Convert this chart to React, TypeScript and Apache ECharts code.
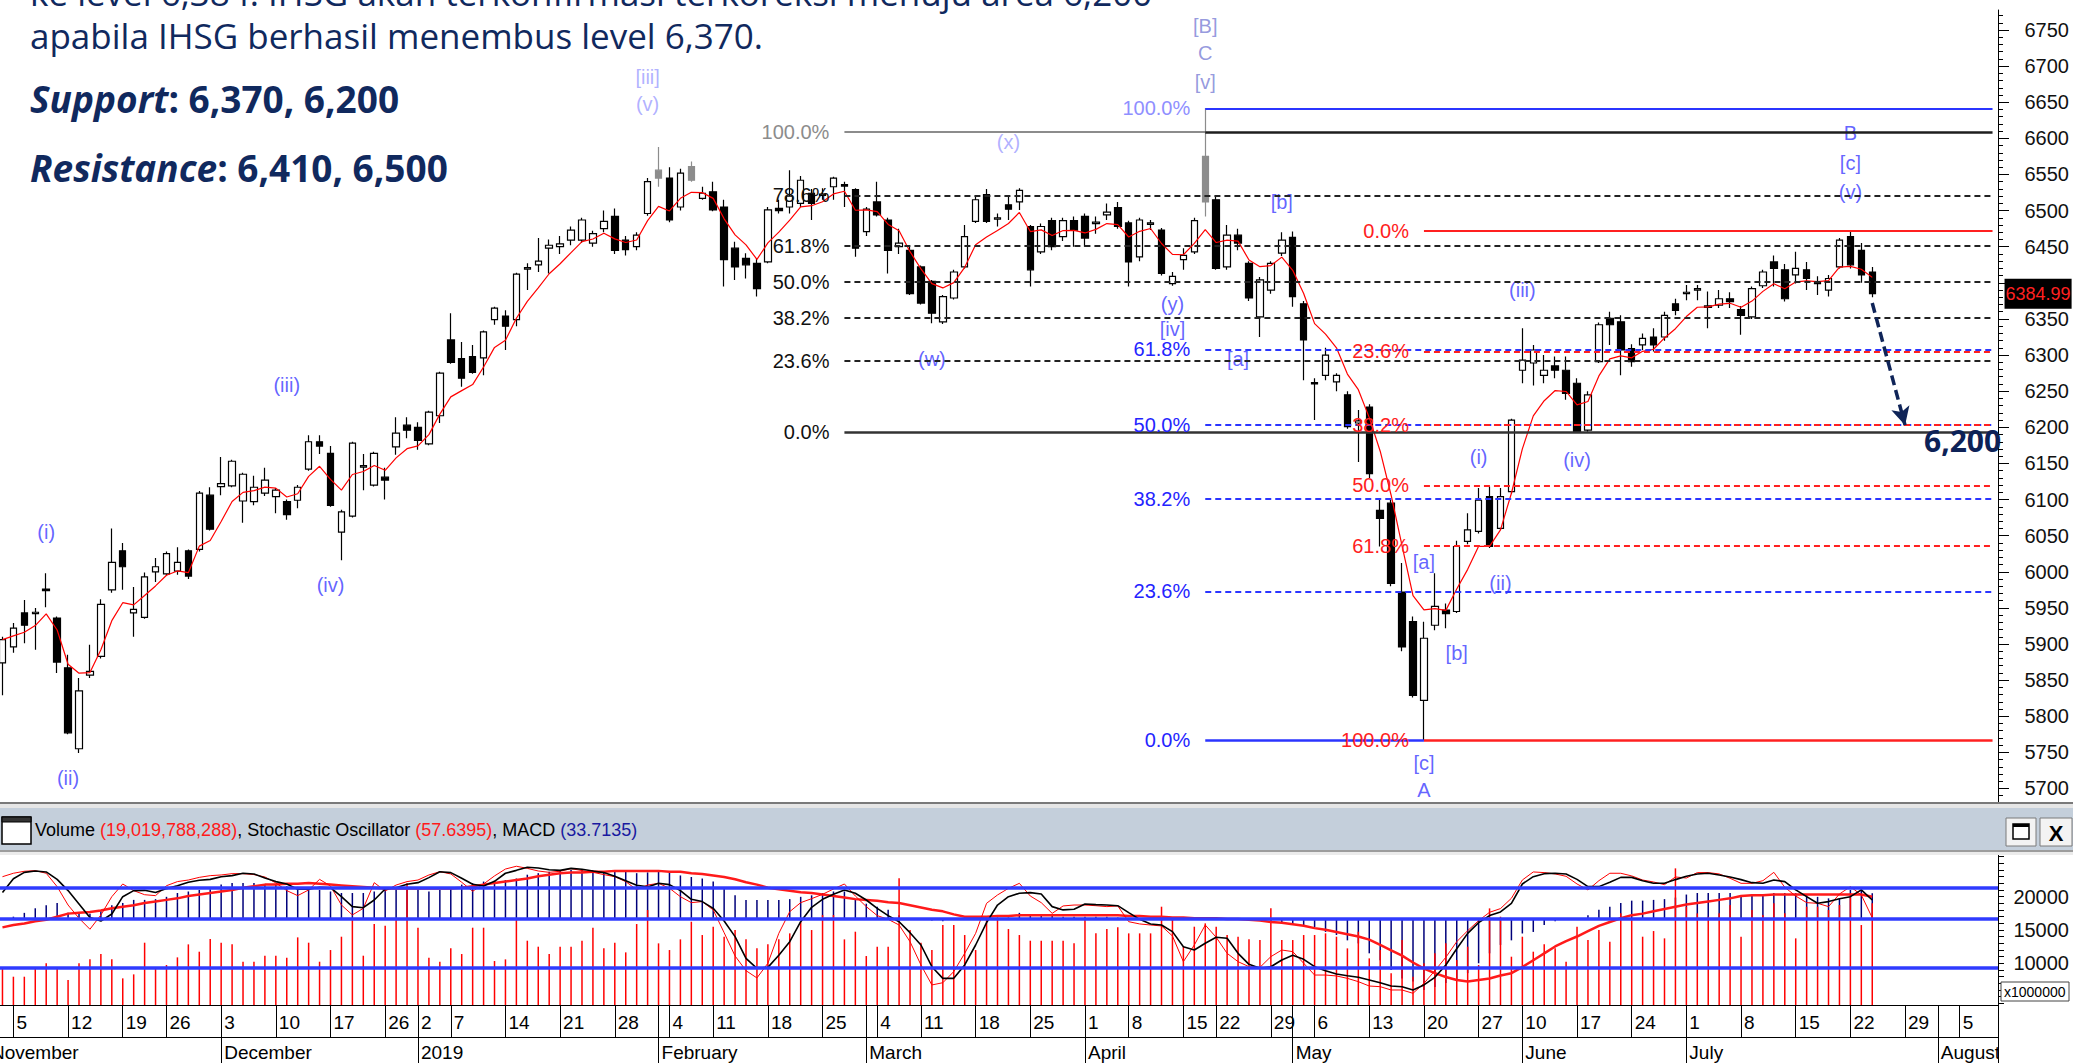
import React, { useEffect, useRef } from 'react';
import * as echarts from 'echarts';

// ---------------- DATA ----------------
const HOLIDAYS = ['2018-11-20', '2018-12-24', '2018-12-25', '2018-12-31', '2019-01-01', '2019-02-05', '2019-03-07', '2019-04-03', '2019-04-17', '2019-04-19', '2019-05-01', '2019-05-30', '2019-06-03', '2019-06-04', '2019-06-05', '2019-06-06', '2019-06-07'];
const FIRST_DAY = '2018-11-02';
const LAST_AXIS_DAY = '2019-08-08';
const MONTH_NAMES = ['2019', 'February', 'March', 'April', 'May', 'June', 'July', 'August', 'September', 'October', 'November', 'December'];

const OPEN = [
  5874, 5896, 5943, 5942, 5976, 5936, 5867, 5755, 5857, 5883,
  5975, 6029, 5943, 5937, 6000, 5997, 6001, 6029, 6031, 6106,
  6118, 6119, 6098, 6097, 6109, 6104, 6097, 6099, 6142, 6180,
  6164, 6055, 6077, 6145, 6120, 6131, 6173, 6203, 6200, 6177,
  6216, 6321, 6295, 6298, 6296, 6349, 6354, 6349, 6419, 6425,
  6448, 6450, 6459, 6459, 6455, 6475, 6492, 6459, 6450, 6496,
  6556, 6545, 6505, 6561, 6517, 6526, 6505, 6448, 6434, 6427,
  6429, 6503, 6505, 6510, 6524, 6521, 6533, 6536, 6529, 6471,
  6512, 6487, 6450, 6445, 6422, 6402, 6346, 6379, 6422, 6485,
  6522, 6488, 6508, 6512, 6478, 6443, 6486, 6464, 6486, 6492,
  6482, 6494, 6504, 6483, 6436, 6481, 6473, 6399, 6432, 6443,
  6575, 6515, 6422, 6466, 6427, 6353, 6390, 6441, 6463, 6371,
  6262, 6272, 6263, 6245, 6206, 6228, 6085, 6095, 5972, 5931,
  5822, 5926, 5947, 5945, 6042, 6056, 6104, 6060, 6111, 6279,
  6289, 6272, 6285, 6279, 6261, 6196, 6291, 6351, 6346, 6309,
  6314, 6325, 6325, 6371, 6385, 6390, 6366, 6369, 6378, 6363,
  6353, 6396, 6429, 6418, 6411, 6418, 6401, 6390, 6422, 6464,
  6445, 6415,
];
const CLOSE = [
  5906, 5922, 5926, 5944, 5974, 5875, 5777, 5835, 5862, 5955,
  6013, 6007, 5948, 5993, 6007, 6025, 6013, 5994, 6109, 6059,
  6122, 6153, 6135, 6117, 6127, 6113, 6079, 6117, 6180, 6174,
  6092, 6083, 6178, 6147, 6164, 6127, 6192, 6196, 6182, 6221,
  6275, 6290, 6268, 6276, 6332, 6365, 6340, 6412, 6421, 6430,
  6452, 6454, 6473, 6487, 6468, 6485, 6445, 6446, 6466, 6540,
  6545, 6487, 6552, 6542, 6524, 6501, 6432, 6422, 6425, 6392,
  6501, 6500, 6520, 6542, 6510, 6523, 6545, 6534, 6448, 6502,
  6494, 6445, 6455, 6385, 6372, 6358, 6381, 6415, 6464, 6515,
  6485, 6490, 6502, 6528, 6418, 6478, 6450, 6486, 6473, 6462,
  6484, 6498, 6478, 6429, 6487, 6483, 6413, 6409, 6438, 6486,
  6512, 6420, 6466, 6455, 6379, 6404, 6427, 6459, 6381, 6321,
  6260, 6300, 6272, 6201, 6209, 6136, 6074, 5984, 5896, 5829,
  5908, 5952, 5942, 6035, 6058, 6099, 6035, 6104, 6210, 6293,
  6307, 6279, 6279, 6247, 6194, 6245, 6342, 6342, 6307, 6291,
  6323, 6314, 6355, 6362, 6387, 6392, 6368, 6378, 6374, 6355,
  6392, 6415, 6420, 6378, 6420, 6406, 6399, 6406, 6459, 6425,
  6411, 6384.99,
];
const LOW = [
  5829, 5888, 5901, 5892, 5951, 5860, 5775, 5749, 5853, 5880,
  5971, 5975, 5910, 5935, 5986, 5995, 5996, 5990, 6028, 6057,
  6106, 6117, 6068, 6092, 6105, 6081, 6072, 6088, 6140, 6163,
  6090, 6016, 6075, 6113, 6118, 6100, 6162, 6185, 6169, 6175,
  6206, 6288, 6256, 6274, 6272, 6342, 6307, 6340, 6390, 6415,
  6413, 6440, 6452, 6455, 6450, 6470, 6440, 6438, 6445, 6493,
  6533, 6484, 6500, 6540, 6515, 6499, 6395, 6404, 6406, 6381,
  6427, 6496, 6496, 6505, 6487, 6515, 6515, 6505, 6436, 6465,
  6492, 6413, 6440, 6383, 6370, 6344, 6343, 6377, 6420, 6483,
  6483, 6478, 6487, 6501, 6395, 6440, 6445, 6458, 6450, 6450,
  6468, 6487, 6475, 6395, 6430, 6473, 6410, 6396, 6418, 6440,
  6492, 6418, 6418, 6445, 6375, 6325, 6385, 6437, 6367, 6265,
  6210, 6265, 6250, 6198, 6152, 6130, 6035, 5980, 5890, 5826,
  5767, 5919, 5922, 5943, 6038, 6053, 6033, 6058, 6108, 6261,
  6258, 6261, 6268, 6238, 6192, 6194, 6289, 6314, 6272, 6284,
  6307, 6305, 6320, 6355, 6376, 6376, 6337, 6365, 6365, 6328,
  6350, 6393, 6395, 6374, 6399, 6390, 6383, 6381, 6420, 6420,
  6400, 6380,
];
const HIGH = [
  5910, 5929, 5961, 5950, 5998, 5938, 5885, 5853, 5899, 5962,
  6060, 6040, 5979, 5999, 6019, 6028, 6034, 6031, 6112, 6117,
  6159, 6155, 6137, 6133, 6144, 6116, 6100, 6120, 6189, 6189,
  6174, 6086, 6180, 6163, 6166, 6144, 6214, 6214, 6207, 6223,
  6277, 6358, 6318, 6314, 6334, 6367, 6362, 6414, 6427, 6462,
  6460, 6465, 6478, 6490, 6472, 6500, 6503, 6465, 6470, 6545,
  6588, 6560, 6558, 6568, 6533, 6540, 6515, 6457, 6441, 6434,
  6505, 6515, 6556, 6548, 6530, 6531, 6547, 6540, 6531, 6505,
  6540, 6490, 6475, 6450, 6424, 6404, 6383, 6418, 6480, 6520,
  6530, 6496, 6519, 6531, 6480, 6482, 6490, 6490, 6492, 6496,
  6492, 6510, 6512, 6486, 6490, 6487, 6476, 6415, 6448, 6490,
  6642, 6520, 6480, 6475, 6430, 6408, 6430, 6470, 6471, 6375,
  6268, 6310, 6275, 6250, 6224, 6232, 6101, 6101, 6012, 5938,
  5931, 5998, 5956, 6043, 6081, 6116, 6118, 6116, 6212, 6337,
  6314, 6300, 6298, 6298, 6268, 6250, 6345, 6360, 6355, 6315,
  6330, 6337, 6360, 6378, 6397, 6397, 6388, 6390, 6387, 6368,
  6395, 6418, 6438, 6426, 6443, 6429, 6409, 6411, 6462, 6471,
  6455, 6422,
];
const GRAY_IDX = [60, 63, 110];

// volume in millions of shares (axis is x1000000)
const VOLUME = [
  9300, 8000, 8000, 9300, 10000, 9300, 7500, 10000, 10600, 11400,
  10600, 7750, 8350, 13100, 9250, 9750, 10900, 12850, 11750, 13650,
  13100, 12850, 10250, 10250, 11150, 11150, 10850, 13900, 13100, 10250,
  12000, 14000, 16750, 11150, 15900, 15650, 16750, 22000, 15350, 10850,
  10250, 12250, 11400, 15350, 15350, 10350, 10600, 16750, 13400, 12500,
  11400, 12500, 12500, 13400, 15350, 12250, 13100, 11650, 15900, 18000,
  13000, 12000, 13600, 16250, 14250, 15500, 14000, 15000, 13600, 12250,
  12850, 13600, 14500, 16250, 15000, 17250, 17250, 13600, 14750, 11100,
  12500, 12500, 22750, 15000, 13100, 12000, 15750, 15750, 14250, 12000,
  16750, 16500, 15150, 14250, 13400, 13400, 13400, 13400, 13000, 16750,
  14500, 15150, 15400, 14500, 14500, 14500, 18500, 16500, 12500, 15500,
  16000, 15500, 14250, 14000, 13600, 13500, 18250, 13500, 13500, 14250,
  14250, 14500, 14000, 12250, 14750, 10750, 12000, 8500, 13500, 8000,
  10000, 11500, 13000, 10500, 12500, 9750, 18250, 17000, 11000, 14000,
  11750, 12850, 12250, 10250, 15500, 13500, 15000, 13250, 17500, 16750,
  14000, 14850, 13750, 24250, 18500, 17500, 17000, 17500, 18750, 14000,
  18000, 17250, 19000, 17500, 13750, 18500, 18500, 18000, 18750, 20500,
  15750, 19020,
];
const MACD = [
  1, 3, 8, 14, 18, 21, 8, 7, 7, 10,
  18, 21, 25, 25, 26, 29, 34, 36, 38, 39,
  45, 47, 47, 47, 45, 45, 43, 42, 41, 38,
  36, 34, 34, 34, 36, 38, 40, 41, 39, 36,
  38, 40, 45, 47, 49, 50, 51, 53, 58, 60,
  62, 63, 64, 65, 64, 63, 63, 62, 60, 61,
  62, 61, 57, 55, 53, 49, 42, 31, 25, 25,
  25, 25, 26, 29, 31, 34, 36, 36, 25, 20,
  16, 12, 5, 1, 0, -2, -3, 0, 0, 1,
  2, 2, 2, 8, 5, 4, 4, 3, 3, 3,
  3, 3, 2, 0, 0, -1, -2, -2, -1, 0,
  0, 0, 0, 0, 0, -2, -3, -4, -7, -9,
  -11, -17, -21, -28, -32, -45, -54, -67, -78, -82,
  -93, -89, -84, -80, -71, -58, -45, -34, -28, -19,
  -17, -8, -3, 0, 0, 5, 12, 16, 21, 24,
  24, 25, 26, 28, 32, 34, 34, 34, 34, 29,
  31, 31, 34, 34, 34, 31, 29, 27, 27, 38,
  39, 33.71,
];
const SIGNAL = [
  -11, -8, -6, -3, -1, 3, 7, 8, 9, 11,
  14, 16, 18, 21, 23, 25, 27, 30, 32, 34,
  36, 38, 41, 43, 45, 45, 46, 46, 47, 46,
  45, 44, 43, 42, 41, 40, 40, 40, 40, 40,
  40, 40, 41, 43, 45, 47, 49, 51, 53, 56,
  58, 60, 61, 61, 62, 62, 63, 63, 63, 63,
  63, 62, 62, 60, 59, 57, 55, 52, 48, 45,
  41, 39, 37, 35, 34, 32, 30, 28, 26, 25,
  24, 22, 21, 18, 15, 12, 10, 6, 3, 3,
  3, 4, 4, 5, 5, 5, 5, 5, 5, 5,
  5, 5, 5, 4, 4, 3, 3, 2, 2, 1,
  1, 1, 0, 0, -1, -2, -4, -5, -7, -9,
  -12, -14, -17, -20, -23, -27, -34, -41, -48, -57,
  -65, -71, -76, -80, -82, -80, -78, -74, -71, -63,
  -54, -45, -36, -29, -23, -16, -9, -4, 1, 5,
  7, 10, 13, 16, 19, 21, 23, 25, 27, 30,
  31, 31, 32, 32, 32, 32, 32, 32, 32, 32,
  32, 29,
];
const STOCH_K = [
  88.7, 91.3, 92.8, 93.3, 91.3, 81.2, 67.3, 57.3, 49.0, 59.8,
  73.6, 83.2, 78.2, 75.1, 74.4, 81.9, 85.0, 86.2, 88.2, 89.5,
  90.0, 91.0, 91.0, 90.3, 88.5, 84.0, 78.2, 74.4, 78.7, 86.7,
  81.7, 67.3, 59.8, 64.8, 84.2, 77.9, 82.4, 85.0, 86.2, 90.0,
  92.5, 90.8, 84.5, 77.7, 83.2, 89.3, 94.5, 96.6, 95.0, 93.0,
  92.0, 92.8, 94.8, 93.3, 92.0, 90.3, 88.7, 85.0, 78.9, 82.4,
  83.7, 80.0, 73.6, 69.1, 69.9, 63.6, 46.4, 28.8, 17.7, 12.2,
  23.3, 45.9, 62.3, 69.1, 72.1, 75.4, 79.4, 83.2, 74.1, 66.1,
  59.3, 56.5, 52.2, 39.6, 22.0, 6.9, 8.6, 17.0, 30.8, 45.9,
  68.6, 74.9, 79.9, 83.7, 74.1, 69.1, 61.0, 66.6, 67.3, 67.3,
  66.8, 66.1, 66.6, 54.7, 53.0, 52.2, 51.5, 43.9, 24.5, 37.1,
  52.2, 42.9, 30.8, 24.5, 20.7, 20.2, 28.3, 33.3, 32.1, 23.3,
  14.4, 14.4, 13.7, 11.9, 9.4, 6.1, 5.6, 3.1, 3.1, 0.6,
  8.1, 17.7, 27.8, 39.6, 47.9, 55.5, 61.8, 64.6, 72.4, 86.2,
  92.3, 91.8, 90.8, 89.0, 83.2, 78.7, 85.7, 91.3, 91.3, 89.3,
  86.2, 84.7, 82.7, 88.5, 87.7, 91.8, 91.8, 90.8, 87.5, 83.7,
  83.7, 85.7, 92.0, 80.7, 74.1, 69.1, 68.6, 66.1, 75.6, 81.2,
  74.9, 57.64,
];
const STOCH_D = [
  76.7, 87.2, 92.0, 93.0, 92.3, 86.7, 78.2, 68.1, 57.8, 55.2,
  60.5, 73.6, 78.2, 78.4, 76.7, 79.7, 81.9, 84.5, 86.0, 86.7,
  88.7, 89.5, 91.3, 90.8, 87.7, 85.0, 83.2, 79.2, 79.2, 80.7,
  80.4, 73.6, 66.1, 65.3, 71.1, 79.4, 80.4, 83.0, 84.2, 88.0,
  92.5, 91.8, 87.5, 83.0, 81.7, 85.2, 91.3, 93.5, 95.8, 95.3,
  94.0, 93.5, 95.0, 94.3, 93.0, 91.8, 89.0, 85.7, 82.2, 81.0,
  83.7, 82.7, 78.2, 71.6, 69.9, 64.8, 55.2, 43.4, 27.0, 19.5,
  20.2, 29.3, 39.6, 54.7, 65.6, 71.6, 75.4, 78.7, 76.2, 71.1,
  64.8, 59.3, 54.7, 46.4, 37.1, 20.7, 11.9, 11.9, 22.0, 37.1,
  54.0, 67.3, 73.6, 76.2, 76.7, 75.6, 66.1, 63.6, 64.1, 68.1,
  67.6, 67.3, 66.8, 61.6, 56.5, 53.0, 52.2, 47.2, 35.8, 33.3,
  38.4, 42.9, 42.2, 30.8, 22.5, 19.5, 20.7, 25.8, 29.3, 26.3,
  20.7, 17.7, 15.2, 13.9, 12.7, 10.7, 8.6, 6.1, 5.6, 3.1,
  6.9, 12.7, 22.0, 34.3, 45.9, 54.0, 59.3, 62.1, 68.6, 83.2,
  88.7, 91.0, 91.3, 90.8, 86.7, 81.2, 81.2, 84.5, 88.2, 88.2,
  85.7, 83.7, 83.7, 86.5, 89.0, 90.8, 91.3, 90.0, 88.5, 86.5,
  84.2, 83.7, 86.2, 85.0, 78.7, 73.6, 68.6, 69.9, 72.1, 73.6,
  78.7, 71.1,
];

// Fibonacci sets: [label, price]
const FIB_BLACK_START = 77;
const FIB_BLACK_DASHED: [string, number][] = [['78.6%', 6521], ['61.8%', 6451], ['50.0%', 6401], ['38.2%', 6352], ['23.6%', 6292]];
const FIB_BLACK_TOP = 6609;
const FIB_BLACK_ZERO = 6193;
const FIB_BLUE_START = 110;
const FIB_BLUE_TOP = 6641.6;
const FIB_BLUE_DASHED: [string, number][] = [['61.8%', 6308], ['50.0%', 6203], ['38.2%', 6101], ['23.6%', 5973]];
const FIB_BLUE_ZERO = 5767;
const FIB_RED_START = 130;
const FIB_RED_TOP = 6472;
const FIB_RED_DASHED: [string, number][] = [['23.6%', 6305], ['38.2%', 6203], ['50.0%', 6119.5], ['61.8%', 6036]];
const FIB_RED_BOTTOM = 5767;
const LAST_PRICE = 6384.99;
const ARROW_FROM: [number, number] = [171, 6372];
const ARROW_TO: [number, number] = [174, 6203];

const BLUE = '#3c3cff';
const LAV = '#9d9dff';
const GB = '#7b80d6';
// wave labels: [text, bar index, price, colour]
const WAVES: [string, number, number, string][] = [
  ['(i)', 4, 6055, BLUE], ['(ii)', 6, 5714, BLUE], ['(iii)', 26, 6258, BLUE], ['(iv)', 30, 5982, BLUE],
  ['[iii]', 59, 6685, LAV], ['(v)', 59, 6648, LAV], ['(x)', 92, 6595, LAV], ['(w)', 85, 6295, BLUE],
  ['(y)', 107, 6371, BLUE], ['[iv]', 107, 6336, BLUE], ['[B]', 110, 6755, GB], ['C', 110, 6718, GB],
  ['[v]', 110, 6678, GB], ['[b]', 117, 6512, BLUE], ['[a]', 113, 6295, BLUE], ['[a]', 130, 6014, BLUE],
  ['[b]', 133, 5887, BLUE], ['[c]', 130, 5735, BLUE], ['A', 130, 5698, BLUE], ['(i)', 135, 6159, BLUE],
  ['(ii)', 137, 5984, BLUE], ['(iii)', 139, 6390, BLUE], ['(iv)', 144, 6155, BLUE],
  ['B', 169, 6607, BLUE], ['[c]', 169, 6566, BLUE], ['(v)', 169, 6526, BLUE],
];
const PRICE_TICKS = [5700, 5750, 5800, 5850, 5900, 5950, 6000, 6050, 6100, 6150, 6200, 6250, 6300, 6350, 6400, 6450, 6500, 6550, 6600, 6650, 6700, 6750];
// 6400 label sits behind the last-price box in the reference
const PRICE_LABELS = PRICE_TICKS.filter((v) => v !== 6400);
const VOLUME_TICKS = [10000, 15000, 20000];

// ---------------- HELPERS ----------------
const FONT = '"Liberation Sans", Arial, sans-serif';
const NAVY = '#10295e';

function tradingDays(): string[] {
  const out: string[] = [];
  const d = new Date(FIRST_DAY + 'T00:00:00Z');
  const end = new Date(LAST_AXIS_DAY + 'T00:00:00Z').getTime();
  while (d.getTime() <= end) {
    const wd = d.getUTCDay();
    const s = d.toISOString().slice(0, 10);
    if (wd !== 0 && wd !== 6 && HOLIDAYS.indexOf(s) < 0) out.push(s);
    d.setUTCDate(d.getUTCDate() + 1);
  }
  return out;
}

function fibLine(x0: number, x1: number, price: number, color: string, width: number, dashed: boolean, label?: string, labelColor?: string) {
  return [
    {
      coord: [x0, price],
      lineStyle: { color, width, type: dashed ? [6, 4] : 'solid', opacity: 1 },
      label: label
        ? { show: true, position: 'start', formatter: label, color: labelColor || color, fontSize: 20, fontFamily: FONT, distance: 15 }
        : { show: false },
    },
    { coord: [x1, price] },
  ];
}

function buildOption() {
  const cats = tradingDays();
  const LAST = cats.length - 1;
  const dates = cats.map((s) => new Date(s + 'T00:00:00Z'));
  const weekStart = cats.map((_, i) => i > 0 && (dates[i].getUTCDay() <= dates[i - 1].getUTCDay() || dates[i].getTime() - dates[i - 1].getTime() >= 7 * 864e5));
  const monthStart = cats.map((_, i) => i > 0 && dates[i].getUTCMonth() !== dates[i - 1].getUTCMonth());

  const GRAY = '#8c8c8c';
  const candleData = OPEN.map((o, i) => {
    const c = CLOSE[i];
    const v = [o, c, Math.min(LOW[i], o, c), Math.max(HIGH[i], o, c)];
    return GRAY_IDX.indexOf(i) >= 0
      ? { value: v, itemStyle: { color: GRAY, color0: GRAY, borderColor: GRAY, borderColor0: GRAY } }
      : v;
  });
  const ema: number[] = [];
  CLOSE.forEach((c, i) => ema.push(i === 0 ? c : ema[i - 1] + (c - ema[i - 1]) / 3));

  const BLK = '#1e1e1e';
  const BL = '#2b35ff';
  const RD = '#ff2020';
  const markData: any[] = [];
  markData.push(fibLine(FIB_BLACK_START, FIB_BLUE_START, FIB_BLACK_TOP, GRAY, 2, false, '100.0%', GRAY));
  markData.push(fibLine(FIB_BLUE_START, LAST, FIB_BLACK_TOP, BLK, 2.5, false));
  FIB_BLACK_DASHED.forEach(([l, p]) => markData.push(fibLine(FIB_BLACK_START, LAST, p, '#222', 2, true, l, '#111')));
  markData.push(fibLine(FIB_BLACK_START, LAST, FIB_BLACK_ZERO, '#333', 2.5, false, '0.0%', '#111'));
  markData.push(fibLine(FIB_BLUE_START, LAST, FIB_BLUE_TOP, BL, 2, false, '100.0%', '#8f8fff'));
  FIB_BLUE_DASHED.forEach(([l, p]) => markData.push(fibLine(FIB_BLUE_START, LAST, p, BL, 2, true, l, '#2424ff')));
  markData.push(fibLine(FIB_BLUE_START, FIB_RED_START, FIB_BLUE_ZERO, BL, 2.5, false, '0.0%', '#2424ff'));
  markData.push(fibLine(FIB_RED_START, LAST, FIB_RED_TOP, RD, 2, false, '0.0%', RD));
  FIB_RED_DASHED.forEach(([l, p]) => markData.push(fibLine(FIB_RED_START, LAST, p, RD, 2, true, l, RD)));
  markData.push(fibLine(FIB_RED_START, LAST, FIB_RED_BOTTOM, RD, 2.5, false, '100.0%', RD));
  // last price box
  markData.push([
    {
      coord: [0, LAST_PRICE],
      lineStyle: { width: 0, color: 'rgba(0,0,0,0)' },
      label: { show: true, position: 'end', formatter: '6384.99', color: '#ff2020', backgroundColor: '#000', padding: [6, 1, 6, 1], fontSize: 18, fontFamily: FONT, distance: 12 },
    },
    { coord: [LAST, LAST_PRICE] },
  ]);
  // projection arrow
  markData.push([
    { coord: ARROW_FROM, symbol: 'none', lineStyle: { color: '#0f2458', width: 3.5, type: [10, 5] }, label: { show: false } },
    { coord: ARROW_TO, symbol: 'arrow', symbolSize: [14, 18] },
  ]);

  const blueLevel = { color: '#2f3bff', width: 3.5, type: 'solid' as const };

  const grids = [
    { left: -3, right: 75, top: 10, bottom: 261, outerBoundsMode: 'none', containLabel: false },
    { left: -3, right: 75, top: 855, bottom: 58, outerBoundsMode: 'none', containLabel: false },
  ];

  const monthFmt = (value: string) => {
    const d = new Date(value + 'T00:00:00Z');
    return MONTH_NAMES[d.getUTCMonth()];
  };
  const plain = (v: number) => String(Math.round(v));

  return {
    animation: false,
    backgroundColor: '#ffffff',
    grid: grids,
    xAxis: [
      { type: 'category', gridIndex: 0, data: cats, boundaryGap: true, show: false, axisLine: { onZero: false } },
      {
        type: 'category', gridIndex: 1, data: cats, boundaryGap: true, position: 'bottom',
        axisLine: { show: true, onZero: false, lineStyle: { color: '#000', width: 1 } },
        axisTick: { show: true, alignWithLabel: true, length: 32, interval: (i: number) => weekStart[i] || monthStart[i], lineStyle: { color: '#000', width: 1 } },
        axisLabel: {
          show: true, interval: (i: number) => weekStart[i], hideOverlap: false,
          formatter: (v: string) => String(Number(v.slice(8, 10))),
          align: 'left', padding: [0, 0, 0, 3], margin: 8, fontSize: 19, fontFamily: FONT, color: '#000',
        },
        splitLine: { show: false },
      },
      {
        type: 'category', gridIndex: 1, data: cats, boundaryGap: true, position: 'bottom', offset: 32,
        axisLine: { show: true, onZero: false, lineStyle: { color: '#000', width: 1 } },
        axisTick: { show: true, alignWithLabel: true, length: 26, interval: (i: number) => monthStart[i], lineStyle: { color: '#000', width: 1 } },
        axisLabel: {
          show: true, interval: (i: number) => monthStart[i], hideOverlap: false,
          formatter: monthFmt, align: 'left', padding: [0, 0, 0, 3], margin: 6, fontSize: 19, fontFamily: FONT, color: '#000',
        },
        splitLine: { show: false },
      },
    ],
    yAxis: [
      {
        type: 'value', gridIndex: 0, position: 'right', min: 5681.3, max: 6777.7, scale: true,
        axisLine: { show: true, onZero: false, lineStyle: { color: '#000', width: 1 } },
        axisTick: { show: true, customValues: PRICE_TICKS, length: 11, lineStyle: { color: '#000' } },
        axisLabel: { show: true, customValues: PRICE_LABELS, formatter: plain, align: 'right', margin: 71, fontSize: 20, fontFamily: FONT, color: '#111' },
        splitLine: { show: false },
      },
      {
        type: 'value', gridIndex: 0, position: 'right', min: 5681.3, max: 6777.7, scale: true,
        axisLine: { show: false },
        axisTick: { show: true, customValues: Array.from({ length: 109 }, (_, k) => 5690 + k * 10), length: 5, lineStyle: { color: '#000' } },
        axisLabel: { show: false },
        splitLine: { show: false },
      },
      {
        type: 'value', gridIndex: 1, position: 'right', min: 3755, max: 26255, scale: true,
        axisLine: { show: true, onZero: false, lineStyle: { color: '#000', width: 1 } },
        axisTick: { show: true, customValues: Array.from({ length: 23 }, (_, k) => 4000 + k * 1000), length: 6, lineStyle: { color: '#000' } },
        axisLabel: { show: true, customValues: VOLUME_TICKS, formatter: plain, align: 'right', margin: 71, fontSize: 20, fontFamily: FONT, color: '#111' },
        splitLine: { show: false },
      },
      { type: 'value', gridIndex: 1, min: -112.7, max: 83.8, show: false, scale: true, splitLine: { show: false } },
      { type: 'value', gridIndex: 1, min: -8.24, max: 105.1, show: false, scale: true, splitLine: { show: false } },
    ],
    series: [
      {
        name: 'IHSG', type: 'candlestick', xAxisIndex: 0, yAxisIndex: 0, data: candleData, barWidth: 7, clip: false,
        itemStyle: { color: '#ffffff', color0: '#000000', borderColor: '#000000', borderColor0: '#000000', borderWidth: 1.2 },
        markLine: { silent: true, symbol: ['none', 'none'], animation: false, label: { show: false }, data: markData },
      },
      {
        name: 'EMA', type: 'line', xAxisIndex: 0, yAxisIndex: 0, data: ema, symbol: 'none', silent: true,
        lineStyle: { color: '#ff0000', width: 1.2 },
      },
      {
        name: 'Waves', type: 'scatter', xAxisIndex: 0, yAxisIndex: 0, symbol: 'circle', symbolSize: 1, silent: true, clip: false,
        itemStyle: { color: 'rgba(0,0,0,0)' },
        data: WAVES.map(([t, i, p, c]) => ({ name: t, value: [i, p], label: { color: c } })),
        label: { show: true, position: 'inside', formatter: (p: any) => p.name, fontSize: 20, fontFamily: FONT },
      },
      {
        name: 'MACD', type: 'bar', xAxisIndex: 1, yAxisIndex: 3, data: MACD, barWidth: 1.5, barGap: '-100%', silent: true,
        itemStyle: { color: '#00007a' },
        markLine: { silent: true, symbol: ['none', 'none'], label: { show: false }, lineStyle: blueLevel, data: [{ yAxis: 0 }] },
      },
      {
        name: 'Volume', type: 'bar', xAxisIndex: 1, yAxisIndex: 2, data: VOLUME, barWidth: 1.5, barGap: '-100%', silent: true, clip: true,
        itemStyle: { color: '#ff0000' },
      },
      {
        name: 'Signal', type: 'line', xAxisIndex: 1, yAxisIndex: 3, data: SIGNAL, symbol: 'none', silent: true,
        lineStyle: { color: '#ff1a1a', width: 2.5 },
      },
      {
        name: '%K', type: 'line', xAxisIndex: 1, yAxisIndex: 4, data: STOCH_K, symbol: 'none', silent: true,
        lineStyle: { color: '#ff0000', width: 1 },
        markLine: { silent: true, symbol: ['none', 'none'], label: { show: false }, lineStyle: blueLevel, data: [{ yAxis: 80 }, { yAxis: 20 }] },
      },
      {
        name: '%D', type: 'line', xAxisIndex: 1, yAxisIndex: 4, data: STOCH_D, symbol: 'none', silent: true,
        lineStyle: { color: '#000000', width: 1.6 },
      },
    ],
    graphic: [
      // commentary text
      { type: 'text', x: 30, y: -8, z: 50, style: { text: 'ke level 6,384. IHSG akan terkonfirmasi terkoreksi menuju area 6,200', fill: NAVY, fontSize: 35, fontFamily: '"Open Sans"', verticalAlign: 'middle', textVerticalAlign: 'middle' } },
      { type: 'text', x: 30, y: 35, z: 50, style: { text: 'apabila IHSG berhasil menembus level 6,370.', fill: NAVY, fontSize: 35, fontFamily: '"Open Sans"', verticalAlign: 'middle', textVerticalAlign: 'middle' } },
      {
        type: 'text', x: 30, y: 98, z: 50,
        style: {
          text: '{a|Support}{b|: 6,370, 6,200}', verticalAlign: 'middle', textVerticalAlign: 'middle',
          rich: { a: { fill: NAVY, fontSize: 37, fontWeight: 'bold', fontStyle: 'italic', fontFamily: '"Open Sans"' }, b: { fill: NAVY, fontSize: 37, fontWeight: 'bold', fontFamily: '"Open Sans"' } },
        },
      },
      {
        type: 'text', x: 30, y: 167, z: 50,
        style: {
          text: '{a|Resistance}{b|: 6,410, 6,500}', verticalAlign: 'middle', textVerticalAlign: 'middle',
          rich: { a: { fill: NAVY, fontSize: 37, fontWeight: 'bold', fontStyle: 'italic', fontFamily: '"Open Sans"' }, b: { fill: NAVY, fontSize: 37, fontWeight: 'bold', fontFamily: '"Open Sans"' } },
        },
      },
      { type: 'text', x: 1924, y: 440, z: 50, style: { text: '6,200', fill: '#0d2257', fontSize: 30, fontWeight: 'bold', fontFamily: '"Open Sans"', verticalAlign: 'middle', textVerticalAlign: 'middle' } },
      // separators and indicator header
      { type: 'rect', z: 40, shape: { x: 0, y: 802, width: 2073, height: 2 }, style: { fill: '#7a7a7a' } },
      { type: 'rect', z: 40, shape: { x: 0, y: 804, width: 2073, height: 4 }, style: { fill: '#e6e6e6' } },
      { type: 'rect', z: 40, shape: { x: 0, y: 808, width: 2073, height: 42 }, style: { fill: '#c4cfdb' } },
      { type: 'rect', z: 40, shape: { x: 0, y: 850, width: 2073, height: 2 }, style: { fill: '#9c9c9c' } },
      { type: 'rect', z: 40, shape: { x: 0, y: 852, width: 2073, height: 3 }, style: { fill: '#ebebeb' } },
      { type: 'rect', z: 41, shape: { x: 2, y: 817, width: 29, height: 27 }, style: { fill: '#ffffff', stroke: '#000', lineWidth: 1.5 } },
      { type: 'rect', z: 41, shape: { x: 2, y: 817, width: 29, height: 5 }, style: { fill: '#333', stroke: '#000', lineWidth: 1 } },
      {
        type: 'text', x: 35, y: 830, z: 41,
        style: {
          text: '{k|Volume }{r|(19,019,788,288)}{k|, Stochastic Oscillator }{r|(57.6395)}{k|, MACD }{n|(33.7135)}',
          verticalAlign: 'middle', textVerticalAlign: 'middle',
          rich: {
            k: { fill: '#000', fontSize: 18, fontFamily: FONT },
            r: { fill: '#ff1a1a', fontSize: 18, fontFamily: FONT },
            n: { fill: '#1a1aa0', fontSize: 18, fontFamily: FONT },
          },
        },
      },
      { type: 'rect', z: 41, shape: { x: 2006, y: 818, width: 30, height: 28 }, style: { fill: '#f3f3f3', stroke: '#7a7a7a', lineWidth: 1 } },
      { type: 'rect', z: 42, shape: { x: 2013, y: 824, width: 16, height: 15 }, style: { fill: '#fff', stroke: '#000', lineWidth: 1.5 } },
      { type: 'rect', z: 42, shape: { x: 2013, y: 824, width: 16, height: 3 }, style: { fill: '#000' } },
      { type: 'rect', z: 41, shape: { x: 2040, y: 818, width: 32, height: 28 }, style: { fill: '#f3f3f3', stroke: '#7a7a7a', lineWidth: 1 } },
      { type: 'text', x: 2056, y: 833, z: 42, style: { text: 'X', fill: '#000', fontSize: 22, fontWeight: 'bold', fontFamily: FONT, align: 'center', textAlign: 'center', verticalAlign: 'middle', textVerticalAlign: 'middle' } },
      // volume multiplier box
      { type: 'rect', z: 41, shape: { x: 2001, y: 982, width: 68, height: 19 }, style: { fill: '#fff', stroke: '#444', lineWidth: 1 } },
      { type: 'text', x: 2004, y: 992, z: 42, style: { text: 'x1000000', fill: '#000', fontSize: 14, fontFamily: FONT, verticalAlign: 'middle', textVerticalAlign: 'middle' } },
      // date rows: cut-off first month and right edge
      { type: 'text', x: -9, y: 1052, z: 42, style: { text: 'November', fill: '#000', fontSize: 19, fontFamily: FONT, verticalAlign: 'middle', textVerticalAlign: 'middle' } },
      { type: 'rect', z: 43, shape: { x: 1999, y: 1006, width: 74, height: 57 }, style: { fill: '#ffffff' } },
      { type: 'line', z: 44, shape: { x1: 1998.5, y1: 1005, x2: 1998.5, y2: 1063 }, style: { stroke: '#000', lineWidth: 1 } },
    ],
  };
}

export default function App() {
  const ref = useRef<HTMLDivElement>(null);
  useEffect(() => {
    if (!ref.current) return;
    const chart = echarts.init(ref.current, null, { renderer: 'svg', width: 2073, height: 1063 });
    chart.setOption(buildOption() as any);
    return () => chart.dispose();
  }, []);
  return <div ref={ref} style={{ position: 'fixed', left: 0, top: 0, width: 2073, height: 1063, background: '#fff' }} />;
}
